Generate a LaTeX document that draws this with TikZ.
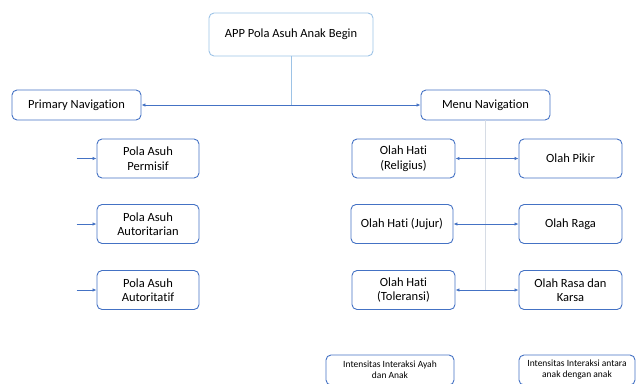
\documentclass[tikz,border=0pt]{standalone}
\usepackage{fontspec}
\setmainfont{Carlito}[Ligatures=NoCommon]
\usepackage{tikz}
\usetikzlibrary{arrows.meta}
\definecolor{boxblue}{HTML}{4472C4}
\definecolor{paleblue}{HTML}{9DC3E6}
\definecolor{faintblue}{HTML}{D6DCE5}
\tikzstyle{every node}=[draw=boxblue,line width=0.9pt,rounded corners=5pt,align=center,font=\fontsize{12.5}{14.5}\selectfont]
\tikzstyle{topbox}=[draw=paleblue,minimum width=164pt,minimum height=43pt]
\tikzstyle{navbox}=[minimum width=129pt,minimum height=30pt]
\tikzstyle{itembox}=[minimum width=103pt,minimum height=39pt,inner sep=1pt]
\tikzstyle{notebox}=[minimum height=30pt,font=\fontsize{9.5}{11}\selectfont,inner sep=1pt]
\tikzstyle{link}=[draw=boxblue,line width=0.9pt,>={Latex[length=4pt,width=3.5pt]}]

\begin{document}
\begin{tikzpicture}[x=1pt,y=-1pt]
  \useasboundingbox (0,0) rectangle (639,383);
  \node [topbox] (app) at (291,34.5) {APP Pola Asuh Anak Begin};
  \node [navbox] (primary) at (76.5,105) {Primary Navigation};
  \node [navbox] (menu) at (485.5,105) {Menu Navigation};
  % left column
  \node [itembox,minimum width=102pt] (permisif) at (148,158.5) {Pola Asuh\\Permisif};
  \node [itembox,minimum width=102pt] (autoritarian) at (148,224) {Pola Asuh\\Autoritarian};
  \node [itembox,minimum width=102pt] (autoritatif) at (148,290) {Pola Asuh\\Autoritatif};
  % right column
  \node [itembox] (religius) at (403.5,158.5) {Olah Hati\\(Religius)};
  \node [itembox,minimum width=102pt] (jujur) at (402,224) {Olah Hati (Jujur)};
  \node [itembox] (toleransi) at (403.5,290) {Olah Hati\\(Toleransi)};
  \node [itembox] (pikir) at (570.5,158.5) {Olah Pikir};
  \node [itembox] (raga) at (570.5,224) {Olah Raga};
  \node [itembox] (rasa) at (570.5,290) {Olah Rasa dan\\Karsa};
  % bottom
  \node [notebox,minimum width=128pt] (ayah) at (390,370) {Intensitas Interaksi Ayah\\dan Anak};
  \node [notebox,minimum width=116pt] (antar) at (577,370) {Intensitas Interaksi antara\\anak dengan anak};
  % connectors
  \draw [draw=paleblue,line width=0.9pt] (app.south) -- (app.south |- primary.east);
  \draw [draw=faintblue,line width=0.6pt] (menu.south) -- (menu.south |- toleransi.east);
  \draw [link,<->] (primary.east) -- (menu.west);
  \foreach \n in {permisif,autoritarian,autoritatif}
    \draw [link,->] ([xshift=-20pt]\n.west) -- (\n.west);
  \draw [link,<->] (religius.east) -- (pikir.west);
  \draw [link,<->] (jujur.east) -- (raga.west);
  \draw [link,<->] (toleransi.east) -- (rasa.west);
\end{tikzpicture}
\end{document}
